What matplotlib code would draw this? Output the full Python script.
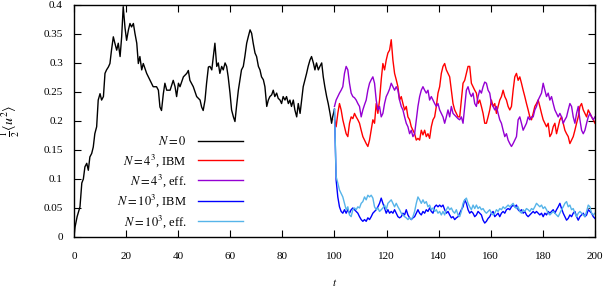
# energy vs time, five runs
import numpy as np
import matplotlib
matplotlib.use("Agg")
import matplotlib.pyplot as plt

plt.rcParams["font.family"] = ["Liberation Serif", "DejaVu Serif"]
plt.rcParams["mathtext.fontset"] = "stix"
plt.rcParams["font.size"] = 8

# N = 0 run, t from 0 to 100
black_t = [0, 0.4, 1.2, 2.3, 3.0, 3.6, 4.2, 4.9, 5.5, 6.1, 6.8, 7.4, 8.0, 8.7, 9.3, 10.0,
           10.6, 11.3, 11.9, 12.5, 13.2, 13.8, 14.4, 15.1, 15.7, 16.4, 17.0, 17.7, 18.3,
           18.9, 19.6, 20.2, 20.9, 21.5, 22.1, 22.8, 23.4, 24.1, 24.7, 25.3, 26.0, 26.6,
           27.9, 29.2, 30.4, 31.7, 32.4, 33.0, 33.6, 34.3, 34.9, 35.6, 36.9, 38.1, 38.8,
           39.4, 40.1, 40.7, 42.0, 43.3, 43.9, 44.5, 45.8, 47.1, 48.4, 49.0, 49.6, 50.3,
           50.9, 51.6, 52.2, 52.9, 53.5, 54.1, 54.8, 55.4, 56.0, 56.7, 57.3, 58.0, 58.6,
           59.2, 59.9, 60.5, 61.2, 61.8, 62.4, 63.1, 63.7, 64.3, 65.0, 65.6, 66.3, 66.9,
           67.6, 68.2, 68.8, 69.5, 70.1, 70.8, 71.4, 72.0, 72.7, 73.3, 74.0, 74.6, 75.2,
           75.9, 76.5, 77.1, 77.8, 78.4, 79.1, 79.7, 80.3, 81.0, 81.6, 82.3, 82.9, 83.5,
           84.2, 84.8, 85.5, 86.1, 86.8, 87.4, 88.0, 88.7, 89.3, 89.9, 90.6, 91.2, 91.9,
           92.5, 93.1, 93.8, 94.4, 95.1, 95.7, 96.3, 97.0, 97.6, 98.3, 98.9, 99.3, 100.0]
black_y = [0, 0.017, 0.035, 0.052, 0.093, 0.1, 0.121, 0.127, 0.115, 0.138, 0.144, 0.155,
           0.178, 0.19, 0.236, 0.247, 0.236, 0.242, 0.282, 0.288, 0.293, 0.299, 0.322,
           0.345, 0.334, 0.322, 0.334, 0.311, 0.345, 0.397, 0.36, 0.339, 0.357, 0.368,
           0.362, 0.368, 0.351, 0.334, 0.299, 0.311, 0.288, 0.299, 0.282, 0.27, 0.259,
           0.259, 0.253, 0.224, 0.218, 0.247, 0.265, 0.253, 0.253, 0.27, 0.259, 0.242,
           0.265, 0.259, 0.276, 0.282, 0.287, 0.27, 0.259, 0.242, 0.236, 0.224, 0.218,
           0.236, 0.265, 0.293, 0.294, 0.288, 0.311, 0.334, 0.294, 0.3, 0.282, 0.294,
           0.288, 0.3, 0.294, 0.276, 0.248, 0.219, 0.207, 0.199, 0.225, 0.253, 0.271,
           0.288, 0.294, 0.311, 0.334, 0.345, 0.357, 0.351, 0.334, 0.317, 0.311, 0.294,
           0.288, 0.276, 0.271, 0.259, 0.225, 0.236, 0.242, 0.245, 0.253, 0.242, 0.248,
           0.239, 0.236, 0.23, 0.242, 0.236, 0.242, 0.23, 0.236, 0.225, 0.236, 0.219,
           0.207, 0.23, 0.213, 0.236, 0.259, 0.271, 0.282, 0.294, 0.305, 0.311, 0.3,
           0.288, 0.3, 0.288, 0.294, 0.3, 0.276, 0.259, 0.242, 0.23, 0.213, 0.196, 0.207,
           0.22]

# runs restarted at t = 100, sampled evenly up to t = 200
red_y = [0.202, 0.19, 0.213, 0.23, 0.219, 0.202, 0.19, 0.178, 0.173, 0.196,
         0.207, 0.204, 0.213, 0.207, 0.202, 0.196, 0.184, 0.173, 0.167, 0.161,
         0.156, 0.167, 0.184, 0.202, 0.196, 0.23, 0.213, 0.236, 0.271, 0.299,
         0.288, 0.305, 0.317, 0.322, 0.34, 0.305, 0.282, 0.271, 0.259, 0.236,
         0.242, 0.23, 0.219, 0.225, 0.207, 0.202, 0.19, 0.184, 0.178, 0.167,
         0.17, 0.167, 0.184, 0.176, 0.184, 0.173, 0.178, 0.17, 0.19, 0.202,
         0.207, 0.225, 0.248, 0.259, 0.282, 0.294, 0.299, 0.288, 0.282, 0.276,
         0.253, 0.23, 0.219, 0.213, 0.207,
         0.207, 0.236, 0.265, 0.27, 0.282, 0.294, 0.294, 0.265, 0.259, 0.253,
         0.248, 0.23, 0.236, 0.225, 0.213, 0.196, 0.196, 0.207, 0.219, 0.236,
         0.225, 0.23, 0.213, 0.225, 0.236, 0.242, 0.253, 0.242, 0.236, 0.225,
         0.219, 0.225, 0.253, 0.276, 0.282, 0.27, 0.276, 0.265, 0.253, 0.242,
         0.23, 0.219, 0.207, 0.202, 0.213, 0.225, 0.23, 0.236, 0.225, 0.213,
         0.202, 0.196, 0.19, 0.196, 0.173, 0.178, 0.19, 0.196, 0.178, 0.19,
         0.202, 0.207, 0.196, 0.184, 0.178, 0.173, 0.161, 0.167, 0.173, 0.184,
         0.196, 0.207, 0.225, 0.23, 0.219, 0.213, 0.207, 0.219, 0.213, 0.207,
         0.202, 0.196]
purple_y = [0.225, 0.236, 0.242, 0.248, 0.253, 0.259, 0.282, 0.294, 0.288, 0.265,
            0.248, 0.242, 0.24, 0.236, 0.23, 0.225, 0.207, 0.219, 0.228, 0.236,
            0.253, 0.265, 0.271, 0.276, 0.265, 0.236, 0.219, 0.225, 0.207, 0.213,
            0.23, 0.242, 0.248, 0.255, 0.265, 0.259, 0.253, 0.259, 0.253, 0.236,
            0.225, 0.219, 0.207, 0.196, 0.19, 0.178, 0.184, 0.173, 0.178, 0.201,
            0.225, 0.242, 0.253, 0.259, 0.253, 0.248, 0.253, 0.236, 0.242, 0.236,
            0.23, 0.225, 0.23, 0.219, 0.213, 0.207, 0.196, 0.207, 0.219, 0.207,
            0.225, 0.213, 0.21, 0.207, 0.204,
            0.202, 0.207, 0.196, 0.225, 0.253, 0.259, 0.248, 0.242, 0.248, 0.23,
            0.225, 0.242, 0.253, 0.248, 0.259, 0.267, 0.265, 0.253, 0.248, 0.23,
            0.225, 0.219, 0.225, 0.213, 0.202, 0.196, 0.184, 0.173, 0.178, 0.167,
            0.161, 0.156, 0.161, 0.167, 0.173, 0.202, 0.207, 0.196, 0.184, 0.19,
            0.196, 0.207, 0.202, 0.207, 0.207, 0.219, 0.225, 0.236, 0.242, 0.248,
            0.265, 0.253, 0.242, 0.248, 0.236, 0.242, 0.23, 0.219, 0.213, 0.207,
            0.213, 0.207, 0.196, 0.202, 0.207, 0.219, 0.23, 0.225, 0.207, 0.196,
            0.213, 0.225, 0.202, 0.184, 0.178, 0.184, 0.196, 0.207, 0.213, 0.207,
            0.202, 0.207]
blue_y = [0.22, 0.098, 0.069, 0.052, 0.044, 0.041, 0.047, 0.041, 0.047, 0.041,
          0.047, 0.05, 0.047, 0.044, 0.041, 0.035, 0.03, 0.027, 0.03, 0.027,
          0.033, 0.03, 0.035, 0.041, 0.044, 0.047, 0.052, 0.058, 0.067, 0.058,
          0.05, 0.041, 0.047, 0.041, 0.044, 0.041, 0.047, 0.041, 0.035, 0.033,
          0.035, 0.041, 0.038, 0.047, 0.038, 0.033, 0.03, 0.033, 0.035, 0.041,
          0.047, 0.041, 0.038, 0.044, 0.041, 0.047, 0.044, 0.05, 0.044, 0.041,
          0.052, 0.055, 0.052, 0.055, 0.052, 0.055, 0.047, 0.041, 0.044, 0.038,
          0.033, 0.035, 0.03, 0.033, 0.035,
          0.041, 0.047, 0.052, 0.064, 0.058, 0.047, 0.041, 0.044, 0.041, 0.035,
          0.038, 0.044, 0.041, 0.038, 0.029, 0.024, 0.027, 0.032, 0.035, 0.041,
          0.044, 0.035, 0.038, 0.041, 0.035, 0.041, 0.044, 0.041, 0.047, 0.049,
          0.047, 0.052, 0.055, 0.052, 0.055, 0.047, 0.044, 0.047, 0.041, 0.044,
          0.038, 0.035, 0.038, 0.041, 0.044, 0.041, 0.044, 0.041, 0.038, 0.041,
          0.035, 0.041, 0.038, 0.044, 0.041, 0.044, 0.047, 0.041, 0.047, 0.052,
          0.058, 0.049, 0.041, 0.035, 0.029, 0.032, 0.038, 0.035, 0.041, 0.044,
          0.035, 0.029, 0.035, 0.038, 0.041, 0.035, 0.038, 0.047, 0.044, 0.041,
          0.035, 0.032]
lightblue_y = [0.22, 0.104, 0.093, 0.081, 0.075, 0.069, 0.058, 0.047, 0.052, 0.038,
               0.035, 0.047, 0.05, 0.047, 0.052, 0.05, 0.058, 0.061, 0.069, 0.064,
               0.072, 0.069, 0.072, 0.067, 0.052, 0.047, 0.05, 0.044, 0.047, 0.05,
               0.055, 0.047, 0.058, 0.061, 0.064, 0.058, 0.052, 0.058, 0.052, 0.047,
               0.041, 0.038, 0.035, 0.033, 0.03, 0.033, 0.03, 0.035, 0.044, 0.058,
               0.069, 0.064, 0.058, 0.064, 0.058, 0.061, 0.052, 0.055, 0.047, 0.05,
               0.044, 0.047, 0.041, 0.044, 0.038, 0.044, 0.038, 0.047, 0.052, 0.047,
               0.05, 0.044, 0.041, 0.047, 0.038,
               0.035, 0.044, 0.058, 0.064, 0.067, 0.058, 0.052, 0.047, 0.055, 0.049,
               0.055, 0.049, 0.052, 0.047, 0.049, 0.044, 0.041, 0.044, 0.047, 0.041,
               0.038, 0.041, 0.047, 0.044, 0.049, 0.047, 0.052, 0.049, 0.052, 0.055,
               0.052, 0.055, 0.058, 0.052, 0.049, 0.052, 0.044, 0.041, 0.047, 0.044,
               0.049, 0.047, 0.044, 0.049, 0.047, 0.052, 0.058, 0.055, 0.052, 0.055,
               0.049, 0.052, 0.047, 0.041, 0.038, 0.041, 0.044, 0.041, 0.038, 0.035,
               0.041, 0.047, 0.052, 0.058, 0.061, 0.052, 0.055, 0.047, 0.049, 0.041,
               0.035, 0.041, 0.044, 0.041, 0.038, 0.035, 0.044, 0.055, 0.052, 0.041,
               0.038, 0.041]
t_right = np.linspace(100, 200, len(red_y))

labels = [r"$N = 0$", r"$N = 4^3$, IBM", r"$N = 4^3$, eff.",
          r"$N = 10^3$, IBM", r"$N = 10^3$, eff."]
colors = ["black", "#ff0000", "#9400d3", "#0000ff", "#56b4e9"]

fig = plt.figure(figsize=(6.04, 2.89), dpi=100)
ax = fig.add_axes([0.1225, 0.18, 0.8625, 0.803])

ax.plot(black_t, black_y, color=colors[0], lw=1.0, label=labels[0])
ax.plot(t_right, red_y, color=colors[1], lw=1.0, label=labels[1])
ax.plot(t_right, purple_y, color=colors[2], lw=1.0, label=labels[2])
ax.plot(t_right, blue_y, color=colors[3], lw=1.0, label=labels[3])
ax.plot(t_right, lightblue_y, color=colors[4], lw=1.0, label=labels[4])

ax.set_xlim(0, 200)
ax.set_ylim(0, 0.4)
ax.set_xticks(np.arange(0, 201, 20))
yt = [0, 0.05, 0.1, 0.15, 0.2, 0.25, 0.3, 0.35, 0.4]
ax.set_yticks(yt)
ax.set_yticklabels(["0", "0.05", "0.1", "0.15", "0.2", "0.25", "0.3", "0.35", "0.4"])
ax.tick_params(direction="in", top=True, right=True, length=5, width=0.8, pad=8)
ax.tick_params(axis="x", pad=11)
for s in ax.spines.values():
    s.set_linewidth(1.0)

ax.set_xlabel(r"$t$", fontsize=8)
ax.xaxis.set_label_coords(0.5, -0.172)
ax.set_ylabel(r"$\frac{1}{2}\langle u^2\rangle$", fontsize=10)
ax.yaxis.set_label_coords(-0.1, 0.5)

leg = ax.legend(loc="center right", bbox_to_anchor=(0.337, 0.235), frameon=False,
                markerfirst=False, handlelength=3.6, handletextpad=0.9,
                labelspacing=0.3, borderpad=0, fontsize=9)

fig.savefig("out.png", dpi=100)
